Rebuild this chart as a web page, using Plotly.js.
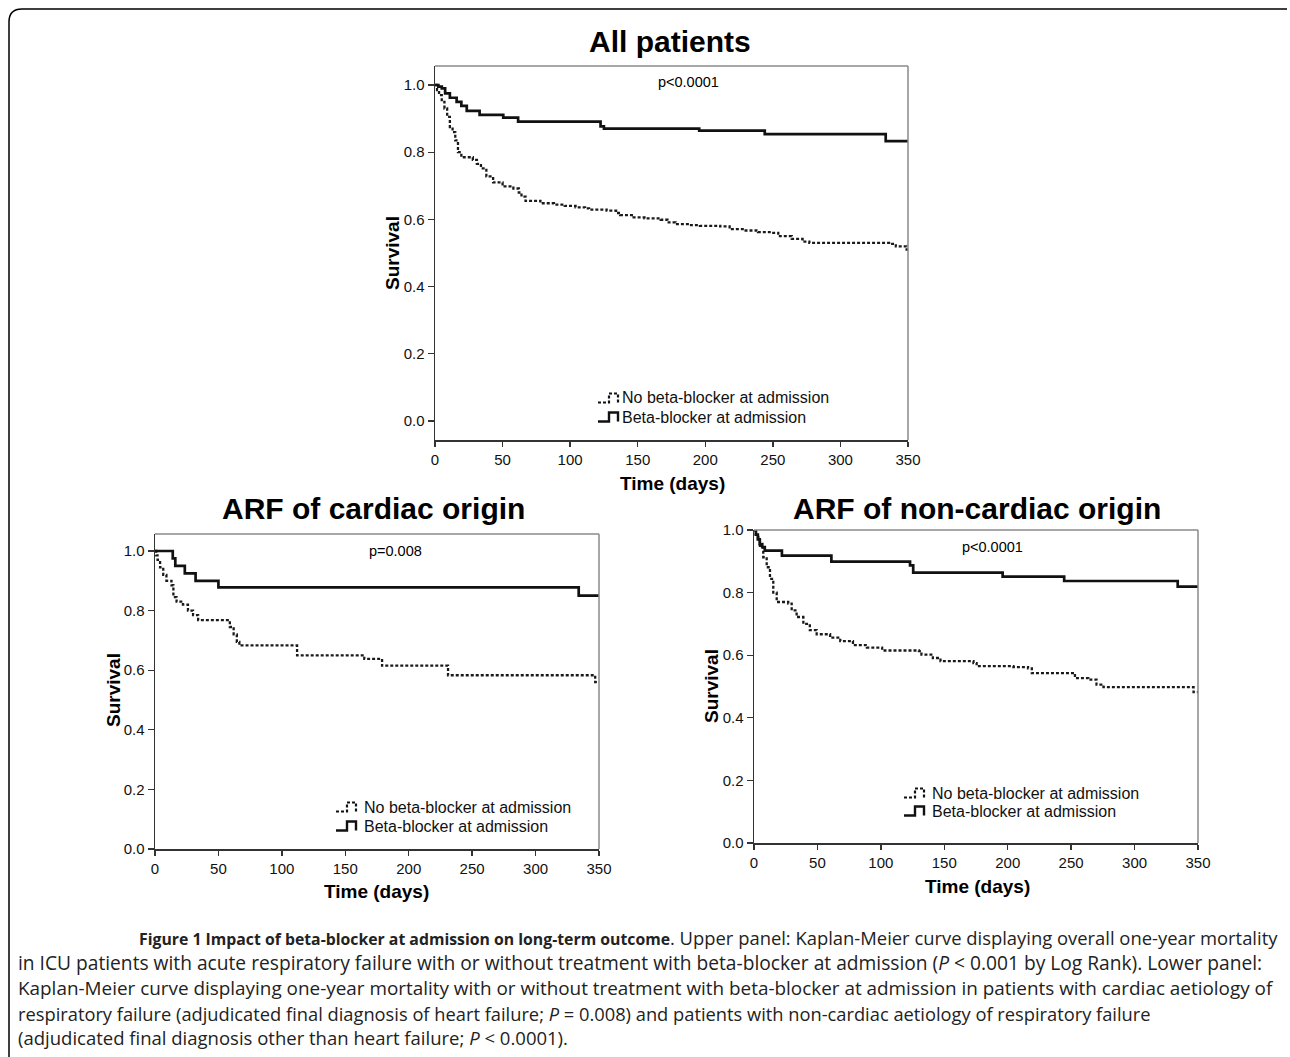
<!DOCTYPE html>
<html>
<head>
<meta charset="utf-8">
<script src="https://cdn.plot.ly/plotly-3.0.1.min.js"></script>
<style>
html,body{margin:0;padding:0;background:#fff;}
#chart{width:1290px;height:1057px;}
</style>
</head>
<body>
<div id="chart"></div>
<script>
// ---------------- DATA ----------------
const xTicks = [0, 50, 100, 150, 200, 250, 300, 350];
const yTicks = [0, 0.2, 0.4, 0.6, 0.8, 1.0];
const seriesNames = ["No beta-blocker at admission", "Beta-blocker at admission"];
const panelTitles = ["All patients", "ARF of cardiac origin", "ARF of non-cardiac origin"];
const pValues = ["p&lt;0.0001", "p=0.008", "p&lt;0.0001"];

// All patients
const allNoBBTime = [0,1.5,3,5,7,9,11,13,15,17,19.5,28,31,34,38,43,50,58,62,64,67,78,88,96,104,111,114,127,134,137,147,155,167,172,178,188,196,211,218,229,239,249,254,264,272,277,336,341,349,350];
const allNoBBSurv = [1.0,0.985,0.97,0.95,0.93,0.905,0.875,0.86,0.835,0.80,0.785,0.777,0.765,0.752,0.728,0.71,0.698,0.692,0.68,0.668,0.655,0.648,0.644,0.640,0.636,0.633,0.629,0.626,0.619,0.613,0.606,0.603,0.599,0.591,0.586,0.583,0.581,0.579,0.571,0.567,0.562,0.560,0.550,0.542,0.534,0.530,0.527,0.520,0.510,0.510];
const allBBTime = [0,2.5,5,7.5,11,16,19.5,23.5,33,50.5,61.5,122.5,125,195.5,244,333.5,350];
const allBBSurv = [1.0,0.995,0.99,0.975,0.962,0.95,0.938,0.923,0.911,0.903,0.891,0.877,0.870,0.864,0.854,0.833,0.833];

// ARF of cardiac origin
const cardNoBBTime = [0,1,2,4,6.5,9,13,14.5,17,22,26,30,34,59,62,64.5,66.5,112,165,179,231,347,350];
const cardNoBBSurv = [1.0,0.985,0.97,0.945,0.92,0.90,0.885,0.845,0.83,0.82,0.80,0.785,0.768,0.745,0.72,0.695,0.683,0.65,0.638,0.615,0.583,0.56,0.56];
const cardBBTime = [0,14,16,23.5,32,50,334,350];
const cardBBSurv = [1.0,0.975,0.95,0.925,0.90,0.878,0.85,0.85];

// ARF of non-cardiac origin
const nonNoBBTime = [0,1.5,3.4,4.7,7.3,10,12.6,15.2,17.9,27,29.7,33.6,38.9,44,49.4,60,68,78,89,101,130,132,141,147,173,175.5,204.5,216,219,253,263.5,270,275.5,346.5,350];
const nonNoBBSurv = [1.0,0.985,0.972,0.945,0.913,0.881,0.844,0.80,0.77,0.765,0.743,0.722,0.70,0.68,0.667,0.656,0.645,0.632,0.624,0.615,0.613,0.602,0.591,0.581,0.575,0.565,0.562,0.558,0.543,0.527,0.522,0.506,0.498,0.482,0.482];
const nonBBTime = [0,1.5,3,4.5,6.5,8.5,22,61,123,125.5,196,244.5,334,350];
const nonBBSurv = [1.0,0.985,0.97,0.955,0.945,0.934,0.918,0.899,0.887,0.864,0.851,0.837,0.819,0.819];

const captionBold = "Figure 1 Impact of beta-blocker at admission on long-term outcome";
const captionLines = [
  ". Upper panel: Kaplan-Meier curve displaying overall one-year mortality",
  "in ICU patients with acute respiratory failure with or without treatment with beta-blocker at admission (<i>P</i> &lt; 0.001 by Log Rank). Lower panel:",
  "Kaplan-Meier curve displaying one-year mortality with or without treatment with beta-blocker at admission in patients with cardiac aetiology of",
  "respiratory failure (adjudicated final diagnosis of heart failure; <i>P</i> = 0.008) and patients with non-cardiac aetiology of respiratory failure",
  "(adjudicated final diagnosis other than heart failure; <i>P</i> &lt; 0.0001)."
];

// ---------------- LAYOUT HELPERS ----------------
const W = 1290, H = 1057;
const X = p => p / W;
const Y = p => 1 - p / H;
const FONT = "Liberation Sans, Arial, sans-serif";

const solidLine = {shape: "hv", color: "#111", width: 2.7};
const dotLine = {shape: "hv", color: "#1a1a1a", width: 2.3, dash: "3px,2px"};

function tr(x, y, line, xa, ya, name) {
  return {type: "scatter", mode: "lines", x: x, y: y, line: line, xaxis: xa, yaxis: ya,
          name: name, showlegend: false, hoverinfo: "skip"};
}

const data = [
  tr(allNoBBTime, allNoBBSurv, dotLine, "x", "y", seriesNames[0]),
  tr(allBBTime, allBBSurv, solidLine, "x", "y", seriesNames[1]),
  tr(cardNoBBTime, cardNoBBSurv, dotLine, "x2", "y2", seriesNames[0]),
  tr(cardBBTime, cardBBSurv, solidLine, "x2", "y2", seriesNames[1]),
  tr(nonNoBBTime, nonNoBBSurv, dotLine, "x3", "y3", seriesNames[0]),
  tr(nonBBTime, nonBBSurv, solidLine, "x3", "y3", seriesNames[1])
];

function xax(l, r, anchor) {
  return {domain: [X(l), X(r)], range: [0, 350], anchor: anchor, tickvals: xTicks,
    ticktext: xTicks.map(String), showline: true, linecolor: "#333", linewidth: 1.5,
    ticks: "outside", ticklen: 5, tickwidth: 1.3, tickcolor: "#333", showgrid: false,
    zeroline: false, tickfont: {family: FONT, size: 15, color: "#111"}, fixedrange: true};
}
function yax(b, t, range, anchor) {
  return {domain: [Y(b), Y(t)], range: range, anchor: anchor, tickvals: yTicks,
    ticktext: yTicks.map(v => v.toFixed(1)), showline: true, linecolor: "#333", linewidth: 1.5,
    ticks: "outside", ticklen: 6, tickwidth: 1.3, tickcolor: "#333", showgrid: false,
    zeroline: false, tickfont: {family: FONT, size: 15, color: "#111"}, fixedrange: true};
}

function ann(text, px, py, o) {
  o = o || {};
  return Object.assign({text: text, x: X(px), y: Y(py), xref: "paper", yref: "paper",
    showarrow: false, xanchor: "center", yanchor: "middle",
    font: {family: FONT, size: 14, color: "#111"}}, o);
}

const annotations = [];
const shapes = [];

const panels = [
  {t: [670, 42], yl: [393, 253], xl: [672, 483], p: [688, 82], lg: [598, 620, 398, 417], xa: "x", ya: "y"},
  {t: [373, 508], yl: [113, 690], xl: [377, 891], p: [395, 551], lg: [336, 362, 807, 826], xa: "x2", ya: "y2"},
  {t: [977, 508], yl: [711, 686], xl: [977, 886], p: [992, 547], lg: [904, 930, 793, 811], xa: "x3", ya: "y3"}
];

panels.forEach((pn, i) => {
  annotations.push(ann("<b>" + panelTitles[i] + "</b>", pn.t[0], pn.t[1], {font: {family: FONT, size: 30, color: "#000"}}));
  annotations.push(ann("<b>Survival</b>", pn.yl[0], pn.yl[1], {textangle: -90, font: {family: FONT, size: 19, color: "#000"}}));
  annotations.push(ann("<b>Time (days)</b>", pn.xl[0], pn.xl[1], {font: {family: FONT, size: 19, color: "#000"}}));
  annotations.push(ann(pValues[i], pn.p[0], pn.p[1], {font: {family: FONT, size: 14.5, color: "#000"}}));
  const [ix, tx, r1, r2] = pn.lg;
  [r1, r2].forEach((ry, k) => {
    annotations.push(ann(seriesNames[k], tx, ry, {xanchor: "left", font: {family: FONT, size: 16, color: "#111"}}));
    const yb = ry + 4.5, yt = ry - 4.5;
    const path = `M ${X(ix)},${Y(yb)} L ${X(ix + 11)},${Y(yb)} L ${X(ix + 11)},${Y(yt)} L ${X(ix + 20)},${Y(yt)} L ${X(ix + 20)},${Y(yb)}`;
    shapes.push({type: "path", xref: "paper", yref: "paper", path: path,
      line: {color: "#111", width: k === 0 ? 2.2 : 2.4, dash: k === 0 ? "3px,2px" : "solid"}});
  });
  const xd = pn.xa + " domain", yd = pn.ya + " domain";
  shapes.push({type: "line", xref: xd, yref: yd, x0: 0, x1: 1, y0: 1, y1: 1, line: {color: "#8a8a8a", width: 1.5}});
  shapes.push({type: "line", xref: xd, yref: yd, x0: 1, x1: 1, y0: 0, y1: 1, line: {color: "#8a8a8a", width: 1.5}});
});

// Caption
const capY = [937, 962, 988, 1013, 1037];
const capX = [137, 16, 16, 16, 16];
const capSize = [18.4, 19.2, 18.9, 18.3, 18.5];
captionLines.forEach((t, i) => {
  const txt = i === 0 ? `<span style="font-size:15.8px"><b>${captionBold}</b></span>${t}` : t;
  annotations.push(ann(txt, capX[i], capY[i], {xanchor: "left", font: {family: "Open Sans, sans-serif", size: capSize[i], color: "#222"}}));
});

// Outer frame (rounded top-left corner)
shapes.push({type: "path", xref: "paper", yref: "paper",
  path: `M ${X(9)},${Y(1057)} L ${X(9)},${Y(22)} Q ${X(9)},${Y(9)} ${X(22)},${Y(9)} L ${X(1287)},${Y(9)}`,
  line: {color: "#000", width: 1.5}});

const layout = {
  width: W, height: H,
  margin: {l: 0, r: 0, t: 0, b: 0},
  paper_bgcolor: "#fff", plot_bgcolor: "#fff",
  showlegend: false,
  font: {family: FONT, color: "#111"},
  xaxis: xax(435, 908, "y"),
  yaxis: yax(440, 66, [-0.0565, 1.0565], "x"),
  xaxis2: xax(155, 599, "y2"),
  yaxis2: yax(849, 534, [0, 1.057], "x2"),
  xaxis3: xax(754, 1198, "y3"),
  yaxis3: yax(843, 530, [0, 1.0], "x3"),
  annotations: annotations,
  shapes: shapes
};

Plotly.newPlot("chart", data, layout, {displayModeBar: false, staticPlot: true});
</script>
</body>
</html>
